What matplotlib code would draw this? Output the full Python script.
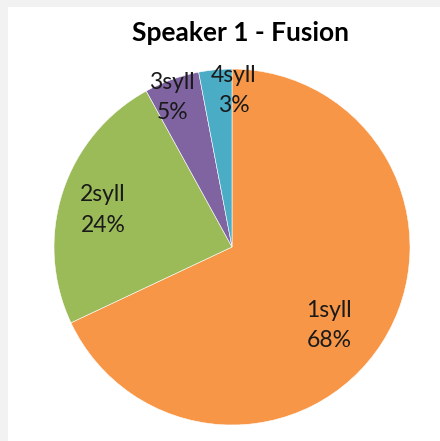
import numpy as np
import matplotlib

matplotlib.use("Agg")
import matplotlib.pyplot as plt
from matplotlib.patches import Rectangle

# data
labels = ["1syll", "2syll", "3syll", "4syll"]
shares = [68, 24, 5, 3]
colors = ["#F79646", "#9BBB59", "#8064A2", "#4BACC6"]
title = "Speaker 1 - Fusion"

# how far out (as fraction of radius) each label sits
label_r = [0.70, 0.755, 0.905, 0.88]
label_rot = [-6.5, 2, 2, -6]  # small angular nudges, degrees

plt.rcParams["font.family"] = ["Lato", "DejaVu Sans"]

fig = plt.figure(figsize=(4.4, 4.41), dpi=100)
fig.patch.set_facecolor("#F2F2F2")
# white chart panel (the grey strip shows at top and left only)
fig.patches.append(Rectangle((8 / 440, 0), 1, 1 - 7 / 441, transform=fig.transFigure,
                             facecolor="white", edgecolor="none", zorder=-10))

ax = fig.add_axes([54 / 440, 16 / 441, 356 / 440, 356 / 441])
ax.set_zorder(5)
wedges, _ = ax.pie(shares, colors=colors, startangle=90, counterclock=False,
                   wedgeprops=dict(edgecolor="white", linewidth=0.4))
ax.set_xlim(-1, 1)
ax.set_ylim(-1, 1)
ax.set_aspect("equal")
ax.axis("off")

for w, lab, val, r, rot in zip(wedges, labels, shares, label_r, label_rot):
    mid = np.deg2rad((w.theta1 + w.theta2) / 2 + rot)
    ax.text(r * np.cos(mid), r * np.sin(mid), f"{lab}\n{val}%", ha="center", va="center",
            fontsize=16.5, color="#1a1a1a", linespacing=1.55)

fig.text(240 / 440, 1 - 33 / 441, title, ha="center", va="center",
         fontsize=19, fontweight="bold", color="black", zorder=6)

fig.savefig("out.png", dpi=100, facecolor=fig.get_facecolor())
